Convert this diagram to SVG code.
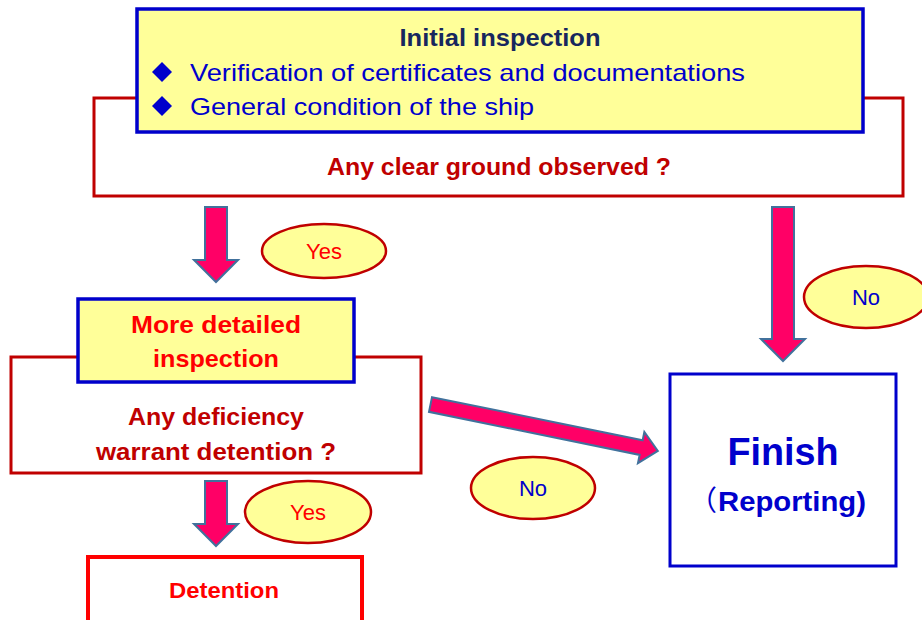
<svg xmlns="http://www.w3.org/2000/svg" width="922" height="620" viewBox="0 0 922 620">
  <style>
    text { font-family: "Liberation Sans", Arial, sans-serif; }
    .q { fill: #fff; stroke: #C00000; stroke-width: 3; }
    .hdr { fill: #FFFF99; stroke: #0000CC; stroke-width: 3.5; }
    .qt { fill: #C00000; font-weight: bold; font-size: 24px; text-anchor: middle; }
    .rt { fill: #FF0000; font-weight: bold; font-size: 24px; text-anchor: middle; }
    .bt { fill: #0000CC; font-size: 24px; }
    .arrow { fill: #FF0066; stroke: #41719C; stroke-width: 2; stroke-linejoin: miter; }
    .lbl { fill: #FFFF99; stroke: #C00000; stroke-width: 2.5; }
    .yes { fill: #FF0000; font-size: 22px; text-anchor: middle; }
    .no { fill: #0000CC; font-size: 22px; text-anchor: middle; }
  </style>
  <defs>
    <path id="diamond" d="M0,-10 L10,0 L0,10 L-10,0 Z" fill="#0000CC"/>
  </defs>
  <rect width="922" height="620" fill="#fff"/>

  <!-- Initial inspection with clear-ground decision -->
  <g id="initial">
    <rect class="q" x="94" y="98" width="809" height="98"/>
    <rect class="hdr" x="137" y="9" width="726" height="123"/>
    <text x="500" y="46" text-anchor="middle" font-weight="bold" font-size="24" fill="#17275E" textLength="201" lengthAdjust="spacingAndGlyphs">Initial inspection</text>
    <use href="#diamond" x="162" y="72"/>
    <text class="bt" x="190" y="81" textLength="555" lengthAdjust="spacingAndGlyphs">Verification of certificates and documentations</text>
    <use href="#diamond" x="162" y="106"/>
    <text class="bt" x="190" y="115" textLength="344" lengthAdjust="spacingAndGlyphs">General condition of the ship</text>
    <text class="qt" x="499" y="175" textLength="344" lengthAdjust="spacingAndGlyphs">Any clear ground observed ?</text>
  </g>

  <!-- More detailed inspection with detention decision -->
  <g id="detailed">
    <rect class="q" x="11" y="357" width="410" height="116"/>
    <rect class="hdr" x="78" y="299" width="276" height="83"/>
    <text class="rt" x="216" y="333" textLength="170" lengthAdjust="spacingAndGlyphs">More detailed</text>
    <text class="rt" x="216" y="367" textLength="126" lengthAdjust="spacingAndGlyphs">inspection</text>
    <text class="qt" x="216" y="425" textLength="176" lengthAdjust="spacingAndGlyphs">Any deficiency</text>
    <text class="qt" x="216" y="460" textLength="240" lengthAdjust="spacingAndGlyphs">warrant detention ?</text>
  </g>

  <!-- Finish (Reporting) -->
  <g id="finish">
    <rect x="670" y="374" width="226" height="192" fill="#fff" stroke="#0000CC" stroke-width="3"/>
    <text x="783" y="465" text-anchor="middle" font-weight="bold" font-size="38" fill="#0000CC" textLength="111" lengthAdjust="spacingAndGlyphs">Finish</text>
    <text x="689" y="511" font-size="28" fill="#0000CC" style="font-family: 'Noto Sans CJK SC', sans-serif">（</text>
    <text x="718" y="511" font-weight="bold" font-size="28" fill="#0000CC" textLength="148" lengthAdjust="spacingAndGlyphs">Reporting)</text>
  </g>

  <!-- Detention -->
  <g id="detention">
    <path d="M88,622 V557 H362 V622" fill="#fff" stroke="#FF0000" stroke-width="4"/>
    <text x="224" y="598" text-anchor="middle" font-weight="bold" font-size="22" fill="#FF0000" textLength="110" lengthAdjust="spacingAndGlyphs">Detention</text>
  </g>

  <!-- Block arrows and branch labels -->
  <g id="connectors">
    <polygon class="arrow" points="205,207 227,207 227,260 238,260 216,282 194,260 205,260"/>
    <polygon class="arrow" points="772,207 794,207 794,339 805,339 783,361 761,339 772,339"/>
    <polygon class="arrow" points="205,481 227,481 227,524 238,524 216,546 194,524 205,524"/>
    <polygon class="arrow" transform="translate(430.5,404.5) rotate(11.55)" points="0,-7.5 215,-7.5 215,-16 232,0 215,16 215,7.5 0,7.5"/>

    <g id="yes-1">
      <ellipse class="lbl" cx="324" cy="251" rx="62" ry="27"/>
      <text class="yes" x="324" y="259">Yes</text>
    </g>
    <g id="no-1">
      <ellipse class="lbl" cx="866" cy="297" rx="62" ry="31"/>
      <text class="no" x="866" y="305">No</text>
    </g>
    <g id="no-2">
      <ellipse class="lbl" cx="533" cy="488" rx="62" ry="31"/>
      <text class="no" x="533" y="496">No</text>
    </g>
    <g id="yes-2">
      <ellipse class="lbl" cx="308" cy="512" rx="63" ry="31"/>
      <text class="yes" x="308" y="520">Yes</text>
    </g>
  </g>
</svg>
